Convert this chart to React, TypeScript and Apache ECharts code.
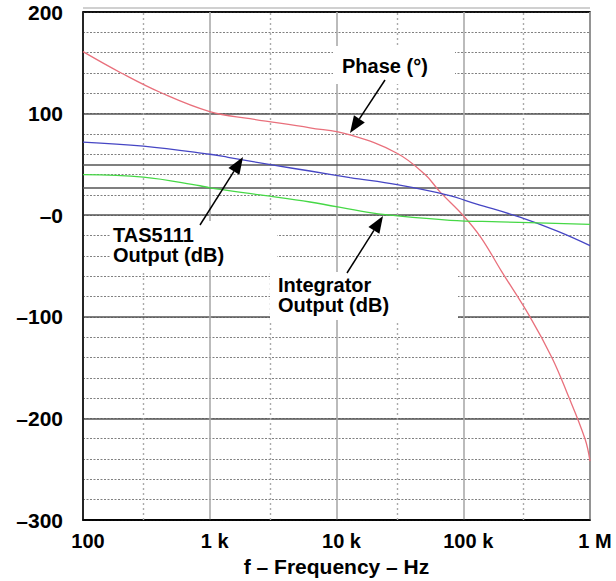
import React, { useEffect, useRef } from "react";
import * as echarts from "echarts";

// ---- data ----
const xTickValues = [100, 1000, 10000, 100000, 1000000];
const xTickLabels = ["100", "1 k", "10 k", "100 k", "1 M"];
const yTickValues = [200, 100, 0, -100, -200, -300];
const yTickLabels = ["200", "100", "\u20130", "\u2013100", "\u2013200", "\u2013300"];
const minorFreqLines = [300, 3000, 30000, 300000];
const extraLevelLines = [50, 27];

const phaseFreq = [100, 200, 405, 1000, 2078, 6180, 12780, 30000, 50000, 65500, 99500, 138000, 200000, 336000, 500000, 655000, 912800, 1000000];
const phaseDeg = [161, 140, 121, 102, 95, 86, 79, 61, 40, 23, 0, -22, -55, -100, -140, -174, -220, -242];

const tasFreq = [100, 300, 1000, 1393, 3270, 6180, 12780, 30000, 74000, 127700, 280000, 559000, 1000000];
const tasDb = [72, 68, 60, 57, 49, 43.5, 37, 30, 20, 11, -2, -16, -30];

const intFreq = [100, 300, 838, 1000, 2490, 6180, 17300, 26400, 78600, 195000, 1000000];
const intDb = [40, 37.5, 29, 27, 20, 13, 3, 0, -5, -6.5, -9];

const FONT = 'Arial, "Liberation Sans", Helvetica, sans-serif';

function arrow(sx: number, sy: number, tx: number, ty: number) {
  const dx = tx - sx;
  const dy = ty - sy;
  const len = Math.sqrt(dx * dx + dy * dy);
  const ux = dx / len;
  const uy = dy / len;
  const L = 17;
  const W = 6.5;
  const bx = tx - ux * L;
  const by = ty - uy * L;
  const nx = -uy;
  const ny = ux;
  return [
    {
      type: "line",
      z: 20,
      shape: { x1: sx, y1: sy, x2: bx, y2: by },
      style: { stroke: "#000", lineWidth: 1.5 },
    },
    {
      type: "polygon",
      z: 20,
      shape: {
        points: [
          [tx, ty],
          [bx + nx * W, by + ny * W],
          [bx - nx * W, by - ny * W],
        ],
      },
      style: { fill: "#000" },
    },
  ];
}

function label(x: number, y: number, text: string) {
  return {
    type: "text",
    z: 21,
    style: {
      x,
      y,
      text,
      font: `bold 20px ${FONT}`,
      lineHeight: 20,
      fill: "#000",
      verticalAlign: "middle",
      align: "left",
    },
  };
}

function whiteBox(x: number, y: number, w: number, h: number) {
  return {
    type: "rect",
    z: 19,
    shape: { x, y, width: w, height: h },
    style: { fill: "#fff" },
  };
}

export default function App() {
  const ref = useRef<HTMLDivElement>(null);

  useEffect(() => {
    document.body.style.margin = "0";
    const chart = echarts.init(ref.current!, null, { renderer: "svg" });

    const zip = (xs: number[], ys: number[]) => xs.map((x, i) => [x, ys[i]]);

    const option: any = {
      animation: false,
      backgroundColor: "#fff",
      grid: {
        left: 83,
        right: 26,
        top: 12,
        bottom: 61,
        show: true,
        borderColor: "#000",
        borderWidth: 1.5,
        outerBoundsMode: "none",
        containLabel: false,
      },
      xAxis: {
        type: "log",
        logBase: 10,
        min: 100,
        max: 1000000,
        name: "f \u2013 Frequency \u2013 Hz",
        nameLocation: "middle",
        nameGap: 34,
        nameTextStyle: { fontFamily: FONT, fontWeight: "bold", fontSize: 21, color: "#000" },
        axisLine: { show: true, onZero: false, lineStyle: { color: "#000", width: 1.5 } },
        axisTick: { show: false },
        axisLabel: {
          fontFamily: FONT,
          fontWeight: "bold",
          fontSize: 20,
          color: "#000",
          margin: 11,
          padding: [0, 0, 0, 10],
          formatter: (v: number) => {
            const i = xTickValues.findIndex((t) => Math.abs(Math.log10(t) - Math.log10(v)) < 1e-6);
            return i >= 0 ? xTickLabels[i] : "";
          },
        },
        splitLine: { show: true, lineStyle: { color: "#aaa", width: 1.6 } },
      },
      yAxis: [
        {
          type: "value",
          min: -300,
          max: 200,
          interval: 20,
          axisLine: { show: false },
          axisTick: { show: false },
          axisLabel: { show: false },
          splitLine: { show: true, lineStyle: { color: "#808080", width: 1, type: [2, 1.5] } },
        },
        {
          type: "value",
          position: "left",
          min: -300,
          max: 200,
          interval: 100,
          axisLine: { show: true, onZero: false, lineStyle: { color: "#000", width: 1.5 } },
          axisTick: { show: false },
          axisLabel: {
            fontFamily: FONT,
            fontWeight: "bold",
            fontSize: 21,
            color: "#000",
            margin: 20,
            formatter: (v: number) => {
              const i = yTickValues.indexOf(v);
              return i >= 0 ? yTickLabels[i] : "";
            },
          },
          splitLine: {
            show: true,
            lineStyle: { color: ["#000", "#555", "#555", "#555", "#555", "#000"], width: 1.5 },
          },
        },
      ],
      series: [
        {
          type: "line",
          name: "grid-extra",
          data: [],
          silent: true,
          z: 1,
          markLine: {
            silent: true,
            symbol: "none",
            label: { show: false },
            data: [
              ...minorFreqLines.map((f) => ({
                xAxis: f,
                lineStyle: { color: "#aaa", width: 1.4, type: [2, 3] },
              })),
              ...extraLevelLines.map((v) => ({
                yAxis: v,
                lineStyle: { color: "#555", width: 1.5, type: "solid" },
              })),
            ],
          },
        },
        {
          type: "line",
          name: "Phase",
          data: zip(phaseFreq, phaseDeg),
          smooth: 0.4,
          symbol: "none",
          z: 5,
          lineStyle: { color: "#e9707c", width: 1.3 },
        },
        {
          type: "line",
          name: "TAS5111",
          data: zip(tasFreq, tasDb),
          smooth: 0.4,
          symbol: "none",
          z: 5,
          lineStyle: { color: "#4646c4", width: 1.3 },
        },
        {
          type: "line",
          name: "Integrator",
          data: zip(intFreq, intDb),
          smooth: 0.4,
          symbol: "none",
          z: 5,
          lineStyle: { color: "#46d846", width: 1.3 },
        },
      ],
      graphic: [
        {
          type: "line",
          z: 10,
          shape: { x1: 83, y1: 8, x2: 590, y2: 8 },
          style: { stroke: "#d0d0d0", lineWidth: 2 },
        },
        whiteBox(333, 46, 122, 38),
        whiteBox(110, 221, 167, 49),
        whiteBox(270, 272, 188, 48),
        label(342, 66, "Phase (\u00b0)"),
        label(113, 244.5, "TAS5111\nOutput (dB)"),
        label(278, 294.5, "Integrator\nOutput (dB)"),
        ...arrow(385, 80, 350, 133),
        ...arrow(200, 225, 243, 157),
        ...arrow(347, 273, 383, 216),
      ],
    };

    chart.setOption(option);
    return () => chart.dispose();
  }, []);

  return <div ref={ref} style={{ width: 616, height: 581 }} />;
}
